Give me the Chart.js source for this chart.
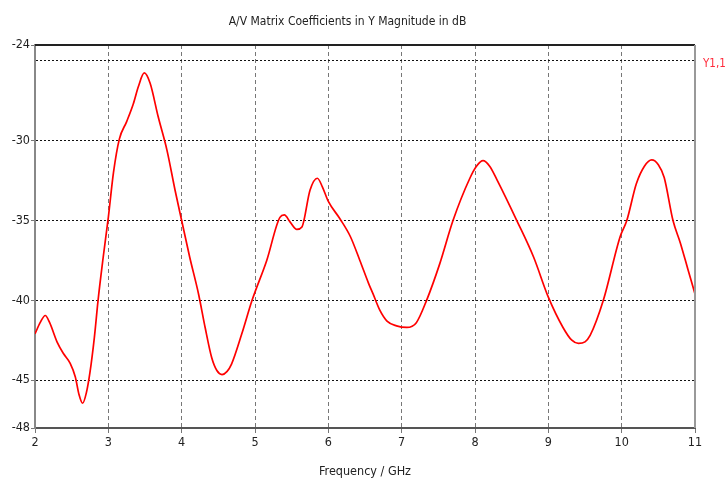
<!DOCTYPE html>
<html>
<head>
<meta charset="utf-8">
<script src="https://cdn.jsdelivr.net/npm/chart.js@4/dist/chart.umd.min.js"></script>
<style>
  html, body { margin: 0; padding: 0; background: #fff; }
  #wrap { width: 726px; height: 486px; }
</style>
</head>
<body>
<div id="wrap"><canvas id="chart"></canvas></div>
<script>
const FONT = "'DejaVu Sans Condensed', 'Liberation Sans', sans-serif"

// frequency (GHz) and magnitude (dB)
const freqs = [2.00, 2.07, 2.14, 2.20, 2.30, 2.39, 2.48, 2.55, 2.60, 2.65, 2.70, 2.75, 2.81, 2.86, 2.93,
  3.00, 3.07, 3.15, 3.25, 3.34, 3.41, 3.49, 3.57, 3.68, 3.80, 3.91, 4.00, 4.11, 4.23, 4.32, 4.41,
  4.48, 4.55, 4.62, 4.68, 4.82, 4.96, 5.16, 5.34, 5.40, 5.48, 5.57, 5.64, 5.75, 5.85, 5.92, 6.00,
  6.16, 6.30, 6.43, 6.55, 6.61, 6.70, 6.80, 6.93, 7.07, 7.20, 7.34, 7.52, 7.70, 7.93, 8.02, 8.11,
  8.20, 8.30, 8.57, 8.80, 9.00, 9.20, 9.32, 9.41, 9.50, 9.57, 9.75, 9.98, 10.07, 10.20, 10.31,
  10.41, 10.50, 10.58, 10.70, 10.80, 10.90, 11.00]
const y11 = [-42.1, -41.4, -40.95, -41.4, -42.6, -43.35, -43.95, -44.8, -45.9, -46.45, -45.8, -44.5, -42.3, -40.0, -37.3,
  -34.8, -32.0, -29.9, -28.8, -27.7, -26.6, -25.75, -26.4, -28.5, -30.6, -33.1, -35.0, -37.3, -39.6, -41.7, -43.6,
  -44.4, -44.65, -44.45, -44.0, -42.1, -40.0, -37.5, -34.8, -34.65, -35.1, -35.55, -35.4, -33.1, -32.35, -32.9, -33.8,
  -34.9, -36.0, -37.5, -38.95, -39.6, -40.6, -41.3, -41.6, -41.7, -41.4, -40.0, -37.7, -35.0, -32.35, -31.6, -31.25,
  -31.6, -32.45, -35.0, -37.3, -39.8, -41.7, -42.5, -42.7, -42.6, -42.2, -40.0, -36.0, -35.0, -32.7, -31.6,
  -31.2, -31.5, -32.3, -35.0, -36.4, -38.0, -39.6]

const yTicks = [-48, -45, -40, -35, -30, -25, -24]
const yTickLabels = ['-48', '-45', '-40', '-35', '-30', '', '-24']
const xTicks = [2, 3, 4, 5, 6, 7, 8, 9, 10, 11]

const seriesName = 'Y1,1'
const titleText = 'A/V Matrix Coefficients in Y Magnitude in dB'
const xTitle = 'Frequency / GHz'

const framePlugin = {
  id: 'frame',
  afterDraw(chart) {
    const { ctx, chartArea } = chart
    ctx.save()
    ctx.lineWidth = 2
    ctx.strokeStyle = '#222'
    ctx.beginPath()
    ctx.moveTo(chartArea.left, chartArea.top)
    ctx.lineTo(chartArea.right, chartArea.top)
    ctx.stroke()
    ctx.strokeStyle = '#999'
    ctx.beginPath()
    ctx.moveTo(chartArea.right, chartArea.top)
    ctx.lineTo(chartArea.right, chartArea.bottom)
    ctx.stroke()
    // series label at the right
    ctx.fillStyle = '#ff2a3a'
    ctx.font = '11.5px ' + FONT
    ctx.textBaseline = 'middle'
    ctx.textAlign = 'left'
    ctx.fillText(seriesName, chartArea.right + 8, chartArea.top + 19)
    ctx.restore()
  }
}

new Chart(document.getElementById('chart'), {
  type: 'line',
  data: {
    datasets: [{
      label: seriesName,
      data: freqs.map((f, i) => ({ x: f, y: y11[i] })),
      borderColor: '#ff0000',
      borderWidth: 1.7,
      pointRadius: 0,
      cubicInterpolationMode: 'monotone',
      fill: false
    }]
  },
  options: {
    responsive: true,
    maintainAspectRatio: false,
    animation: false,
    layout: { padding: { left: 0, right: 31, top: 0, bottom: 0 } },
    plugins: {
      legend: { display: false },
      tooltip: { enabled: false },
      title: {
        display: true,
        text: titleText,
        color: '#222',
        font: { family: FONT, size: 12, weight: 'normal' },
        padding: { top: 15, bottom: 15.6 }
      }
    },
    scales: {
      x: {
        type: 'linear',
        min: 2,
        max: 11,
        afterBuildTicks: scale => { scale.ticks = xTicks.map(v => ({ value: v })) },
        afterFit: scale => { scale.height = 58 },
        ticks: {
          color: '#222',
          font: { family: FONT, size: 12.5 },
          padding: 2,
          maxRotation: 0
        },
        grid: {
          color: ctx => (ctx.tick && (ctx.tick.value === 2 || ctx.tick.value === 11)) ? 'rgba(0,0,0,0)' : '#777',
          tickColor: '#777',
          tickLength: 5,
          lineWidth: 1
        },
        border: { color: '#555', width: 2, dash: [4, 3] },
        title: {
          display: true,
          text: xTitle,
          color: '#222',
          font: { family: FONT, size: 12.5 },
          padding: { top: 0, bottom: 7 }
        }
      },
      y: {
        min: -48,
        max: -24,
        afterBuildTicks: scale => { scale.ticks = yTicks.map(v => ({ value: v })) },
        afterFit: scale => { scale.width = 35 },
        ticks: {
          color: '#222',
          font: { family: FONT, size: 12.5 },
          padding: 1,
          callback: value => yTickLabels[yTicks.indexOf(value)]
        },
        grid: {
          color: ctx => (ctx.tick && (ctx.tick.value === -48 || ctx.tick.value === -24)) ? 'rgba(0,0,0,0)' : '#111',
          tickColor: ctx => (ctx.tick && ctx.tick.value === -25) ? 'rgba(0,0,0,0)' : '#777',
          tickLength: 4,
          lineWidth: 1
        },
        border: { color: '#888', width: 2, dash: [2, 2] }
      }
    }
  },
  plugins: [framePlugin]
})
</script>
</body>
</html>
